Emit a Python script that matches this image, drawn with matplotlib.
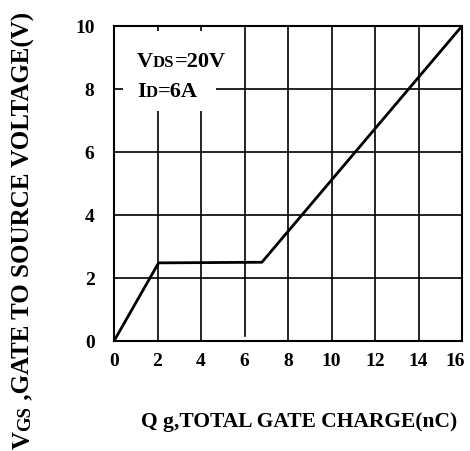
import matplotlib
matplotlib.use("Agg")
import matplotlib.pyplot as plt
from matplotlib.patches import Rectangle
from matplotlib.transforms import offset_copy, ScaledTranslation

# Data
qg = [0, 2.05, 6.8, 16]
vgs = [0, 2.48, 2.5, 10]
xticks = [0, 2, 4, 6, 8, 10, 12, 14, 16]
yticks = [0, 2, 4, 6, 8, 10]

plt.rcParams['font.family'] = ['Liberation Serif', 'DejaVu Serif']
plt.rcParams['font.weight'] = 'bold'

fig = plt.figure(figsize=(4.7, 4.52), dpi=100)
ax = fig.add_axes([114/470, 1-342/452, 348/470, 315/452])
ax.set_xlim(0, 16)
ax.set_ylim(0, 10)

for x in xticks[1:-1]:
    ax.axvline(x, ymin=0.015 if x == 6 else 0, color='black', lw=1.2, zorder=1)
for y in yticks[1:-1]:
    ax.axhline(y, color='black', lw=1.2, zorder=1)

ax.add_patch(Rectangle((0.4, 7.3), 4.3, 2.55, facecolor='white', edgecolor='none', zorder=2))

ax.plot(qg, vgs, color='black', lw=2.0, zorder=3)

for s in ax.spines.values():
    s.set_linewidth(1.5)
ax.set_xticks(xticks)
ax.set_yticks(yticks)
xl = ax.set_xticklabels([str(v) for v in xticks], fontsize=14, fontweight='bold')
ax.set_yticklabels([str(v) for v in yticks], fontsize=14, fontweight='bold')
ax.tick_params(axis='x', length=0, pad=8)
ax.tick_params(axis='y', length=0, pad=14)
xl[-1].set_transform(xl[-1].get_transform() + ScaledTranslation(-7/100, 0, fig.dpi_scale_trans))

fig.canvas.draw()
renderer = fig.canvas.get_renderer()

def chain(x, y, pieces, rotation=0):
    trans = fig.transFigure
    off = 0
    for txt, size in pieces:
        if rotation == 0:
            t = fig.text(x, y, txt, fontsize=size, fontweight='bold', ha='left', va='baseline',
                         transform=offset_copy(trans, fig=fig, x=off, y=0, units='dots'))
            bb = t.get_window_extent(renderer)
            off += bb.width
        else:
            t = fig.text(x, y, txt, fontsize=size, fontweight='bold', ha='left', va='baseline',
                         rotation=90, rotation_mode='anchor',
                         transform=offset_copy(trans, fig=fig, x=0, y=off, units='dots'))
            bb = t.get_window_extent(renderer)
            off += bb.height

chain(137/470, 1-67/452, [("V", 16), ("DS", 12), ("=20V", 16)])
chain(137/470, 1-97/452, [("I", 16), ("D", 12), ("=6A", 16)])

fig.text(299/470, 1-427/452, "Q g,TOTAL GATE CHARGE(nC)", fontsize=15.5, fontweight='bold',
         ha='center', va='baseline')

chain(30/470, 1-449/452, [("V", 18), ("GS", 13.5), (" ,GATE TO SOURCE VOLTAGE(V)", 18)], rotation=90)

fig.savefig("out.png", dpi=100)
